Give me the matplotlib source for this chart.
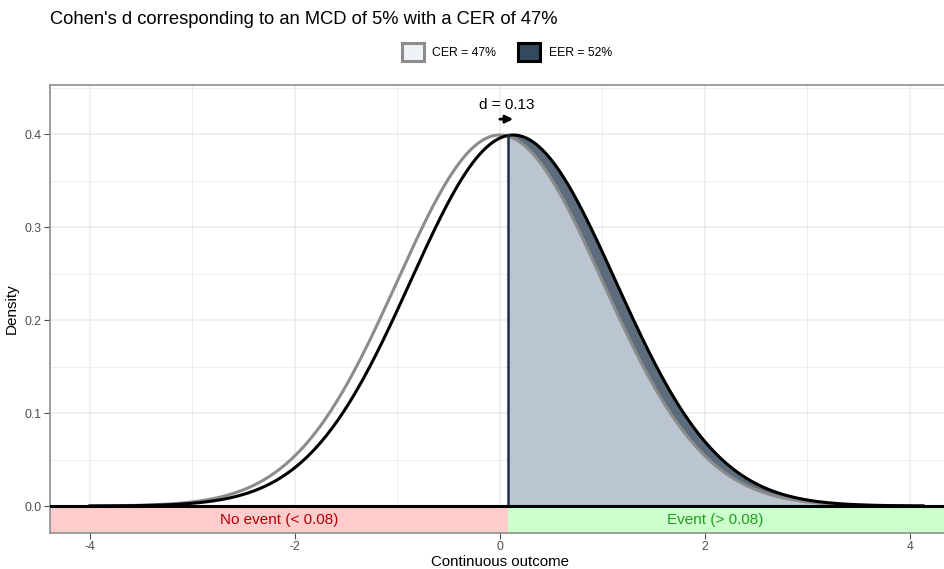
import numpy as np
import matplotlib.pyplot as plt
from matplotlib.patches import Patch

plt.rcParams['font.family'] = ['Liberation Sans', 'DejaVu Sans']
plt.rcParams['axes.unicode_minus'] = False

# values
cer_label = 'CER = 47%'
eer_label = 'EER = 52%'
cer_mean = 0.0
eer_mean = 0.13
sd = 1.0
threshold = 0.08
d_label = 'd = 0.13'
x_ticks = [-4, -2, 0, 2, 4]
y_ticks = [0.0, 0.1, 0.2, 0.3, 0.4]
band_labels = ['No event (< 0.08)', 'Event (> 0.08)']


def dnorm(x, mu, s):
    return np.exp(-0.5 * ((x - mu) / s) ** 2) / (s * np.sqrt(2 * np.pi))


x = np.linspace(-4, 4.13, 800)
y_cer = dnorm(x, cer_mean, sd)
y_eer = dnorm(x, eer_mean, sd)

fig = plt.figure(figsize=(9.44, 5.69), dpi=100)
ax = fig.add_axes([50 / 944, 1 - 533 / 569, 914 / 944, 448 / 569])

xlim = (-4.39, 4.53)
ylim = (-0.029, 0.4527)

# grid
for v in np.arange(-5, 6, 1):
    ax.axvline(v, color='#ebebeb', lw=1.1 if v % 2 == 0 else 0.6, zorder=0)
for v in np.arange(0, 0.46, 0.05):
    ax.axhline(v, color='#ebebeb', lw=1.1 if round(v * 20) % 2 == 0 else 0.6, zorder=0)

# event / no event bands
ax.fill_between([xlim[0], threshold], ylim[0], 0, color='#ffcccc', lw=0, zorder=1)
ax.fill_between([threshold, xlim[1]], ylim[0], 0, color='#ccffcc', lw=0, zorder=1)
ax.text((xlim[0] + threshold) / 2, ylim[0] / 2, band_labels[0], color='#b30000',
        ha='center', va='center', fontsize=11, zorder=2)
ax.text((threshold + xlim[1] - 0.4) / 2, ylim[0] / 2, band_labels[1], color='#1f9e1f',
        ha='center', va='center', fontsize=11, zorder=2)

# shaded areas above threshold
right = x >= threshold
ax.fill_between(x[right], 0, y_eer[right], color='#34495e', alpha=0.8, lw=0, zorder=2)
ax.fill_between(x[right], 0, y_cer[right], color='#e3ecf5', alpha=0.7, lw=0, zorder=3)

# density curves
ax.plot(x, y_cer, color='#8c8c8c', lw=2.2, zorder=4)
ax.plot(x, y_eer, color='black', lw=2.2, zorder=5)
ax.plot([threshold, threshold], [0, dnorm(threshold, eer_mean, sd)],
        color='#1f2f44', lw=1.8, zorder=6)
ax.axhline(0, color='black', lw=2.2, zorder=6)

# d arrow
ax.annotate('', xy=(eer_mean, 0.416), xytext=(cer_mean, 0.416),
            arrowprops=dict(arrowstyle='-|>', color='black', lw=2,
                            mutation_scale=11, shrinkA=0, shrinkB=0), zorder=7)
ax.text((cer_mean + eer_mean) / 2, 0.4235, d_label, ha='center', va='bottom', fontsize=11)

ax.set_xlim(xlim)
ax.set_ylim(ylim)
ax.set_xticks(x_ticks)
ax.set_yticks(y_ticks)
ax.set_yticklabels([f'{v:.1f}' for v in y_ticks])
ax.tick_params(colors='#4d4d4d', labelsize=8.8, length=4, width=0.8, pad=2)
for s in ax.spines.values():
    s.set_color('#8f8f8f')
    s.set_linewidth(1.2)
ax.set_ylabel('Density', fontsize=11, labelpad=4)

fig.text(500 / 944, 1 - 562 / 569, 'Continuous outcome', fontsize=10.8,
         ha='center', va='center')
fig.text(50 / 944, 1 - 20 / 569, "Cohen's d corresponding to an MCD of 5% with a CER of 47%",
         fontsize=13.2, ha='left', va='center')

handles = [Patch(facecolor='#eef2f7', edgecolor='#8c8c8c', lw=2.2, label=cer_label),
           Patch(facecolor='#34495e', edgecolor='black', lw=2.2, label=eer_label)]
fig.legend(handles=handles, loc='center', bbox_to_anchor=(507 / 944, 1 - 52 / 569),
           ncol=2, frameon=False, fontsize=8.8, handlelength=1.8, handleheight=1.9,
           columnspacing=1.8, handletextpad=0.7)

fig.savefig('out.png', dpi=100)
